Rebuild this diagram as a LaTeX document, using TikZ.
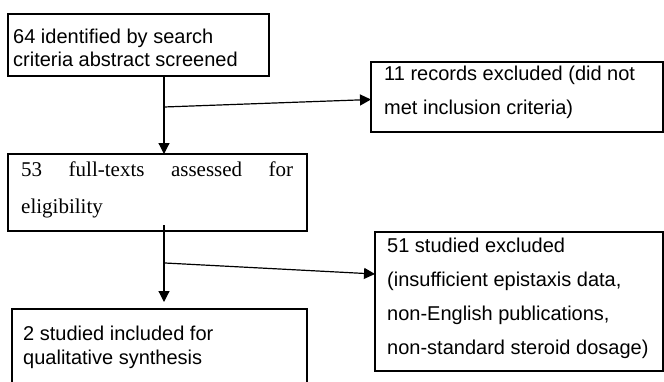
\documentclass[tikz,border=0pt]{standalone}
\usepackage{fontspec}
\setmainfont{Liberation Serif}
\newfontfamily\arialfont{Liberation Sans}
\usetikzlibrary{arrows.meta}
\tikzset{
  boxst/.style={draw, line width=2pt, rectangle, inner sep=0pt, outer sep=0pt, anchor=north west},
  sanstxt/.style={inner sep=0pt, anchor=base west, font=\arialfont\fontsize{20}{23}\selectfont},
  seriftxt/.style={inner sep=0pt, anchor=base west, font=\fontsize{21}{24}\selectfont},
  arr/.style={line width=1.2pt, -{Triangle[length=11pt,width=11pt]}},
  plain/.style={line width=1.2pt}
}
\begin{document}
\begin{tikzpicture}[x=1pt,y=-1pt]
\useasboundingbox (0,0) rectangle (664,381);
\clip (0,0) rectangle (664,381);
% boxes
\node[boxst, minimum width=261pt, minimum height=62pt] (b1) at (8,14) {};
\node[boxst, minimum width=292pt, minimum height=70pt] (b2) at (371,61.5) {};
\node[boxst, minimum width=299pt, minimum height=77pt] (b3) at (8,154) {};
\node[boxst, minimum width=288pt, minimum height=139pt] (b4) at (375,232) {};
\node[boxst, minimum width=295pt, minimum height=90pt] (b5) at (12,309) {};
% texts
\node[sanstxt] (t1a) at (13,43) {64 identified by search};
\node[sanstxt] (t1b) at (13,66.5) {criteria abstract screened};
\node[sanstxt] (t2a) at (384,80) {11 records excluded (did not};
\node[sanstxt] (t2b) at (384,114) {met inclusion criteria)};
\node[seriftxt] (t3a) at (21,176) {\makebox[272pt][s]{53 full-texts assessed for}};
\node[seriftxt] (t3b) at (21,213) {eligibility};
\node[sanstxt] (t4a) at (387,252) {51 studied excluded};
\node[sanstxt] (t4b) at (387,286) {(insufficient epistaxis data,};
\node[sanstxt] (t4c) at (387,320) {non-English publications,};
\node[sanstxt] (t4d) at (387,354) {non-standard steroid dosage)};
\node[sanstxt] (t5a) at (23,340) {2 studied included for};
\node[sanstxt] (t5b) at (23,364) {qualitative synthesis};
% connector coordinates
\coordinate (cx) at (164,0);
\coordinate (j1) at (164,107);
\coordinate (s2) at (164,225);
\coordinate (e2) at (164,302);
\coordinate (j2) at (165,263);
% connectors
\draw[arr] (b1.south -| cx) -- (b3.north -| cx);
\draw[arr] (j1) -- ([yshift=-3pt]b2.west);
\draw[arr] (s2) -- (e2);
\draw[arr] (j2) -- ([yshift=27.5pt]b4.west);
\end{tikzpicture}
\end{document}
